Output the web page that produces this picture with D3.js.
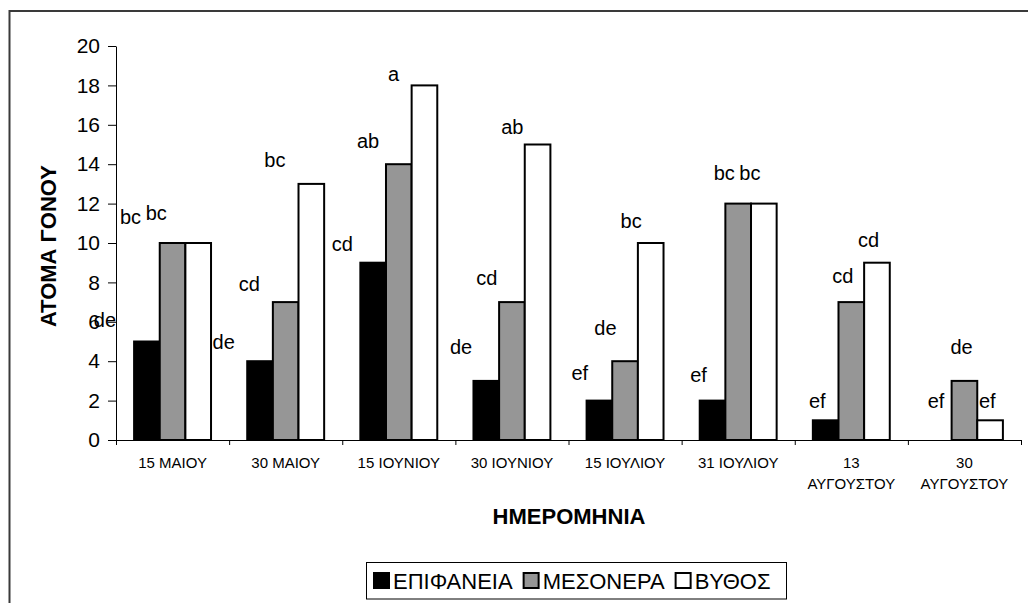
<!DOCTYPE html>
<html>
<head>
<meta charset="utf-8">
<script src="https://cdn.jsdelivr.net/npm/d3@7"></script>
<style>
  html, body { margin: 0; padding: 0; background: #fff; }
  svg { display: block; font-family: "Liberation Sans", Arial, sans-serif; }
</style>
</head>
<body>
<script>
// ---- data ----
const categories = ["15 ΜΑΙΟΥ", "30 ΜΑΙΟΥ", "15 ΙΟΥΝΙΟΥ", "30 ΙΟΥΝΙΟΥ", "15 ΙΟΥΛΙΟΥ", "31 ΙΟΥΛΙΟΥ", "13 ΑΥΓΟΥΣΤΟΥ", "30 ΑΥΓΟΥΣΤΟΥ"];
const seriesNames = ["ΕΠΙΦΑΝΕΙΑ", "ΜΕΣΟΝΕΡΑ", "ΒΥΘΟΣ"];
const epifaneia = [5, 4, 9, 3, 2, 2, 1, 0];
const mesonera = [10, 7, 14, 7, 4, 12, 7, 3];
const vythos = [10, 13, 18, 15, 10, 12, 9, 1];
// significance letters per bar
const lettersEpifaneia = ["de", "de", "cd", "de", "ef", "ef", "ef", "ef"];
const lettersMesonera = ["bc", "cd", "ab", "cd", "de", "bc", "cd", "de"];
const lettersVythos = ["bc", "bc", "a", "ab", "bc", "bc", "cd", "ef"];
// height (in axis units) at which each letter sits in the picture
const letterLevelEpifaneia = [6.1, 5.0, 9.95, 4.7, 3.4, 3.3, 2.0, 2.0];
const letterLevelMesonera = [11.3, 7.9, 15.2, 8.2, 5.7, 13.55, 8.3, 4.7];
const letterLevelVythos = [11.5, 14.2, 18.6, 15.9, 11.1, 13.55, 10.15, 2.0];
const yTicks = [0, 2, 4, 6, 8, 10, 12, 14, 16, 18, 20];
const yTitle = "ΑΤΟΜΑ ΓΟΝΟΥ";
const xTitle = "ΗΜΕΡΟΜΗΝΙΑ";

const seriesValues = [epifaneia, mesonera, vythos];
const seriesLetters = [lettersEpifaneia, lettersMesonera, lettersVythos];
const seriesLevels = [letterLevelEpifaneia, letterLevelMesonera, letterLevelVythos];
const seriesFill = ["#000000", "#969696", "#ffffff"];

// ---- layout ----
const W = 1028, H = 603;
const svg = d3.select("body").append("svg").attr("width", W).attr("height", H);

// outer frame
svg.append("rect").attr("x", 9.5).attr("y", 11).attr("width", 1040).attr("height", 620)
  .attr("fill", "none").attr("stroke", "#3a3a3a").attr("stroke-width", 2);

const x = d3.scaleBand().domain(categories).range([116, 1021]);
const xs = d3.scaleBand().domain(seriesNames).range([0, x.bandwidth() * 0.68]);
const groupOffset = (x.bandwidth() - xs.range()[1]) / 2;
const y = d3.scaleLinear().domain([0, 20]).range([440, 46]);
// letters in the original are drifted relative to their bars
const xLab = d3.scaleBand().domain(categories).range([74, 74 + categories.length * (x.bandwidth() + 5.6)]);

// bars
seriesNames.forEach((s, si) => {
  const data = categories.map((c, i) => ({c, v: seriesValues[si][i]})).filter(d => d.v > 0);
  svg.append("g").selectAll("rect").data(data).join("rect")
    .attr("x", d => x(d.c) + groupOffset + xs(s))
    .attr("y", d => y(d.v))
    .attr("width", xs.bandwidth())
    .attr("height", d => y(0) - y(d.v))
    .attr("fill", seriesFill[si])
    .attr("stroke", "#000")
    .attr("stroke-width", 2);
});

// y axis
const gy = svg.append("g").attr("transform", "translate(116,0)")
  .call(d3.axisLeft(y).tickValues(yTicks).tickSize(8).tickSizeOuter(0).tickPadding(8));
gy.selectAll("text").attr("font-size", 21).attr("fill", "#000").attr("font-family", "Liberation Sans, Arial, sans-serif");
gy.selectAll("line,path").attr("stroke", "#000");

// x axis (boundary ticks)
const xIdx = d3.scaleLinear().domain([0, categories.length]).range([116, 1021]);
const gx = svg.append("g").attr("transform", "translate(0,440)")
  .call(d3.axisBottom(xIdx).ticks(categories.length).tickSize(5).tickFormat(""));
gx.selectAll("line,path").attr("stroke", "#000");

// category labels with wrapping
categories.forEach(c => {
  const t = svg.append("text")
    .attr("x", x(c) + x.bandwidth() / 2)
    .attr("y", 468)
    .attr("text-anchor", "middle")
    .attr("font-size", 15)
    .attr("fill", "#000")
    .text(c);
  if (t.node().getComputedTextLength() > x.bandwidth() - 8) {
    const parts = c.split(" ");
    t.text(null);
    t.append("tspan").attr("x", x(c) + x.bandwidth() / 2).text(parts[0]);
    t.append("tspan").attr("x", x(c) + x.bandwidth() / 2).attr("dy", 20.5).text(parts.slice(1).join(" "));
  }
});

// letters
seriesNames.forEach((s, si) => {
  svg.append("g").selectAll("text").data(categories).join("text")
    .attr("x", (c) => xLab(c) + groupOffset + xs(s) + xs.bandwidth() / 2)
    .attr("y", (c, i) => y(seriesLevels[si][i]))
    .attr("dy", "0.35em")
    .attr("text-anchor", "middle")
    .attr("font-size", 20)
    .attr("fill", "#000")
    .text((c, i) => seriesLetters[si][i]);
});

// axis titles
svg.append("text")
  .attr("transform", "translate(56,246) rotate(-90)")
  .attr("text-anchor", "middle")
  .attr("font-size", 22).attr("font-weight", "bold").attr("fill", "#000")
  .text(yTitle);
svg.append("text")
  .attr("x", 569).attr("y", 524)
  .attr("text-anchor", "middle")
  .attr("font-size", 22).attr("font-weight", "bold").attr("fill", "#000")
  .text(xTitle);

// legend
const lg = svg.append("g");
lg.append("rect").attr("x", 366.5).attr("y", 562.5).attr("width", 420).attr("height", 36.5)
  .attr("fill", "#fff").attr("stroke", "#000").attr("stroke-width", 1);
let lx = 374;
seriesNames.forEach((s, si) => {
  lg.append("rect").attr("x", lx).attr("y", 573).attr("width", 15).attr("height", 15)
    .attr("fill", seriesFill[si]).attr("stroke", "#000").attr("stroke-width", 2);
  const t = lg.append("text").attr("x", lx + 19).attr("y", 589)
    .attr("font-size", 22).attr("fill", "#000").text(s);
  lx = lx + 19 + t.node().getComputedTextLength() + 11;
});
</script>
</body>
</html>
